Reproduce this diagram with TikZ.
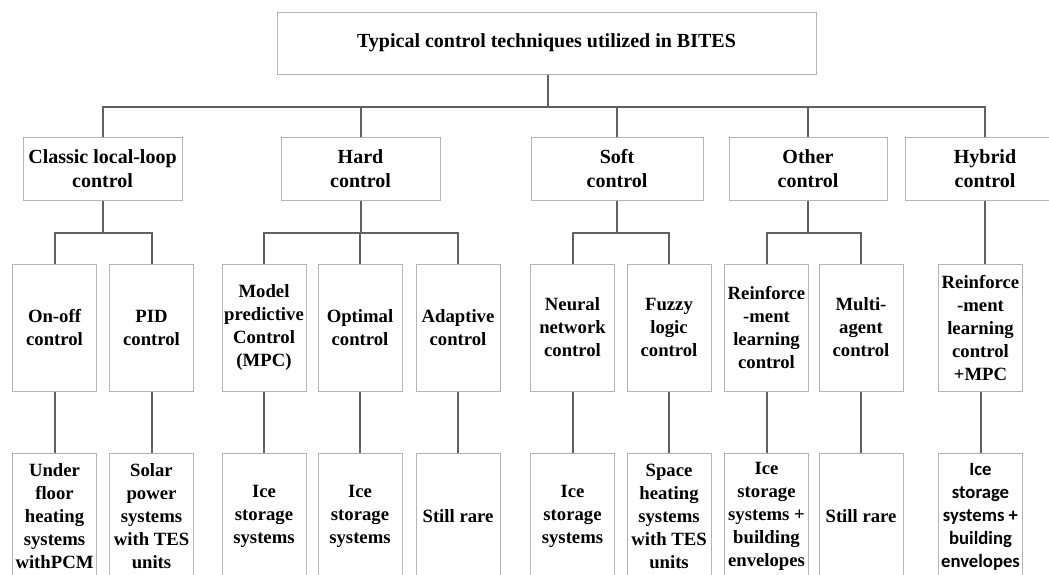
\documentclass[tikz,border=0pt]{standalone}
\usepackage{fontspec}
\setmainfont{Liberation Serif}
\newfontfamily\calfont{Carlito}
\usetikzlibrary{positioning}
\definecolor{boxgray}{HTML}{B4B4B4}
\definecolor{linkgray}{HTML}{606060}
\tikzset{
  box/.style={draw=boxgray, line width=1pt, align=center, inner sep=0pt,
    font=\fontsize{18.7}{23}\selectfont\bfseries},
  headbox/.style={box, minimum height=63, font=\fontsize{20}{24}\selectfont\bfseries},
  techbox/.style={box, minimum width=84, minimum height=127},
  usebox/.style={box, minimum width=84, minimum height=126, anchor=north},
  link/.style={draw=linkgray, line width=2pt},
}

\begin{document}
\begin{tikzpicture}[x=1pt,y=-1pt]
  \clip (0,0) rectangle (1049,574);
  % title
  \node[headbox, minimum width=539, minimum height=62] (bites) at (546.5,43)
    {Typical control techniques utilized in BITES};
  % families
  \node[headbox, minimum width=159] (classic) at (102.5,168.5) {Classic local-loop\\control};
  \node[headbox, minimum width=159] (hard) at (360.5,168.5) {Hard\\control};
  \node[headbox, minimum width=172] (soft) at (617,168.5) {Soft\\control};
  \node[headbox, minimum width=158] (other) at (808,168.5) {Other\\control};
  \node[headbox, minimum width=160] (hybrid) at (985,168.5) {Hybrid\\control};
  % techniques
  \node[techbox] (onoff) at (54.5,327.5) {On-off\\control};
  \node[techbox] (pid) at (151.5,327.5) {PID\\control};
  \node[techbox] (mpc) at (264,327.5) {Model\\predictive\\Control\\(MPC)};
  \node[techbox] (optimal) at (360,327.5) {Optimal\\control};
  \node[techbox] (adaptive) at (458,327.5) {Adaptive\\control};
  \node[techbox] (neural) at (572.5,327.5) {Neural\\network\\control};
  \node[techbox] (fuzzy) at (669,327.5) {Fuzzy\\logic\\control};
  \node[techbox] (reinf) at (766.5,327.5) {Reinforce\\-ment\\learning\\control};
  \node[techbox] (multi) at (861,327.5) {Multi-\\agent\\control};
  \node[techbox] (rlmpc) at (980.5,327.5) {Reinforce\\-ment\\learning\\control\\+MPC};
  % applications
  \node[usebox] (floor) at (54.5,453) {Under\\floor\\heating\\systems\\withPCM};
  \node[usebox] (solar) at (151.5,453) {Solar\\power\\systems\\with TES\\units};
  \node[usebox] (icempc) at (264,453) {Ice\\storage\\systems};
  \node[usebox] (iceopt) at (360,453) {Ice\\storage\\systems};
  \node[usebox] (rareadp) at (458,453) {Still rare};
  \node[usebox] (iceneural) at (572.5,453) {Ice\\storage\\systems};
  \node[usebox] (space) at (669,453) {Space\\heating\\systems\\with TES\\units};
  \node[usebox] (iceenv) at (766.5,453) {Ice\\storage\\systems +\\building\\envelopes};
  \node[usebox] (raremulti) at (861,453) {Still rare};
  \node[usebox, font=\fontsize{18.7}{23}\calfont\bfseries] (icehyb) at (980.5,453)
    {Ice\\storage\\systems +\\building\\envelopes};
  % connectors
  \foreach \fam in {classic,hard,soft,other,hybrid}
    \draw[link] (bites.south) ++(1.5,0) -- ++(0,32) -| (\fam.north);
  \foreach \fam/\tech in {classic/onoff,classic/pid,hard/mpc,hard/optimal,hard/adaptive,
      soft/neural,soft/fuzzy,other/reinf,other/multi}
    \draw[link] (\fam.south) -- ++(0,32) -| (\tech.north);
  \draw[link] (hybrid.south) -- (hybrid.south |- rlmpc.north);
  \foreach \tech/\app in {onoff/floor,pid/solar,mpc/icempc,optimal/iceopt,adaptive/rareadp,
      neural/iceneural,fuzzy/space,reinf/iceenv,multi/raremulti,rlmpc/icehyb}
    \draw[link] (\tech.south) -- (\app.north);
\end{tikzpicture}
\end{document}
